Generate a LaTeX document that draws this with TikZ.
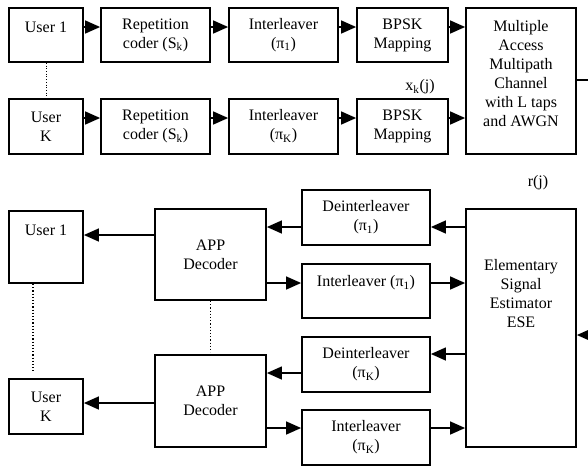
\documentclass[tikz,border=0pt]{standalone}
\usepackage{fontspec}
\setmainfont{Liberation Serif}
\usetikzlibrary{arrows.meta}
\newcommand\bx[6]{\node[box, minimum width={(#4)-(#2)}, minimum height={(#5)-(#3)}] (#1) at ({((#2)+(#4))/2},{((#3)+(#5))/2}) {#6};}
\begin{document}
\begin{tikzpicture}[x=1pt,y=-1pt,
  txt/.style={font=\fontsize{16}{19}\selectfont, align=center, inner sep=0pt},
  box/.style={draw, line width=1.8pt, inner sep=0pt, txt},
  arr/.style={line width=1.4pt, -{Triangle[length=15pt,width=13pt]}},
  ln/.style={line width=1.4pt},
  dots/.style={dotted, line width=1.2pt}]
\useasboundingbox (0,0) rectangle (588,466);
% transmitter
\bx{u1}{9}{8}{83}{62}{}
\node[txt] (u1t) at (46,27) {User 1};
\bx{rep1}{101}{8}{210}{62}{Repetition\\coder (S\textsubscript{k})}
\bx{int1t}{229}{8}{338}{62}{Interleaver\\(π\textsubscript{1})}
\bx{bpsk1}{357}{8}{448}{62}{BPSK\\Mapping}
\bx{ch}{466}{8}{576}{154}{}
\node[txt] (cht) at (521,74) {Multiple\\Access\\Multipath\\Channel\\with L taps\\and AWGN};
\bx{uK}{9}{99}{83}{154}{User\\K}
\bx{repK}{101}{99}{210}{154}{Repetition\\coder (S\textsubscript{k})}
\bx{intKt}{229}{99}{338}{154}{Interleaver\\(π\textsubscript{K})}
\bx{bpskK}{357}{99}{448}{154}{BPSK\\Mapping}
\node[txt] (xk) at (420,87) {x\textsubscript{k}(j)};
\node[txt] (rj) at (538,183) {r(j)};
% receiver
\bx{du1}{9}{211}{83}{283}{}
\node[txt] (du1t) at (46,230) {User 1};
\bx{app1}{155}{209}{266}{300}{APP\\Decoder}
\bx{appK}{155}{355}{266}{447}{APP\\Decoder}
\bx{duK}{9}{379}{83}{434}{User\\K}
\bx{dei1}{302}{190}{430}{245}{Deinterleaver\\(π\textsubscript{1})}
\bx{ilv1}{302}{264}{430}{318}{}
\node[txt] (ilv1t) at (366,283) {Interleaver (π\textsubscript{1})};
\bx{deiK}{302}{337}{430}{392}{Deinterleaver\\(π\textsubscript{K})}
\bx{ilvK}{302}{410}{430}{465}{Interleaver\\(π\textsubscript{K})}
\bx{ese}{466}{209}{576}{447}{}
\node[txt] (eset) at (521,294) {Elementary\\Signal\\Estimator\\ESE};
% transmitter arrows
\draw[arr] (u1.east |- 0,27) -- (rep1.west |- 0,27);
\draw[arr] (rep1.east |- 0,27) -- (int1t.west |- 0,27);
\draw[arr] (int1t.east |- 0,27) -- (bpsk1.west |- 0,27);
\draw[arr] (bpsk1.east |- 0,27) -- (ch.west |- 0,27);
\draw[arr] (uK.east |- 0,118) -- (repK.west |- 0,118);
\draw[arr] (repK.east |- 0,118) -- (intKt.west |- 0,118);
\draw[arr] (intKt.east |- 0,118) -- (bpskK.west |- 0,118);
\draw[arr] (bpskK.east |- 0,118) -- (ch.west |- 0,118);
\coordinate (chout) at (588,80);
\draw[ln] (ch.east |- chout) -- (chout);
\coordinate (esein) at (588,335);
\draw[arr] (esein) -- (ese.east |- esein);
\draw[dots, line width=0.7pt] (u1.south) -- (uK.north);
% receiver arrows
\draw[arr] (app1.west |- 0,235) -- (du1.east |- 0,235);
\draw[arr] (appK.west |- 0,403) -- (duK.east |- 0,403);
\draw[arr] (ese.west |- 0,227) -- (dei1.east |- 0,227);
\draw[arr] (dei1.west |- 0,227) -- (app1.east |- 0,227);
\draw[arr] (app1.east |- 0,283) -- (ilv1.west |- 0,283);
\draw[arr] (ilv1.east |- 0,283) -- (ese.west |- 0,283);
\draw[arr] (ese.west |- 0,354) -- (deiK.east |- 0,354);
\draw[arr] (deiK.west |- 0,373) -- (appK.east |- 0,373);
\draw[arr] (appK.east |- 0,428) -- (ilvK.west |- 0,428);
\draw[arr] (ilvK.east |- 0,428) -- (ese.west |- 0,428);
\draw[dots, shorten >=7pt] (du1.south -| 33,0) -- (duK.north -| 33,0);
\draw[dots, shorten >=2pt] (app1.south) -- (appK.north);
\end{tikzpicture}
\end{document}
